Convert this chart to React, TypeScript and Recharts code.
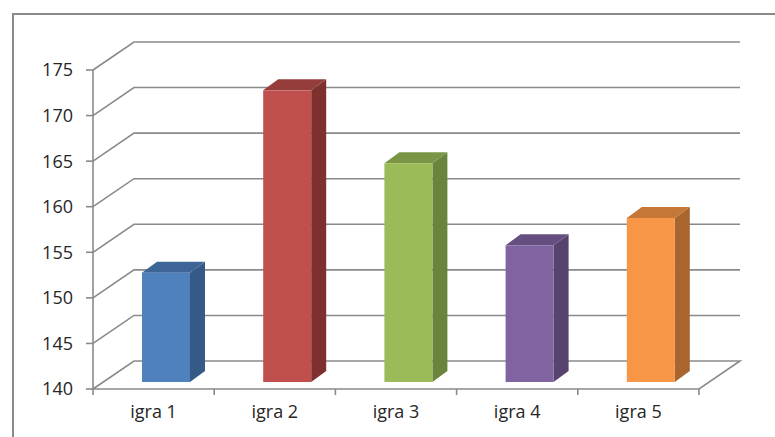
import React from 'react';
import { BarChart, Bar, XAxis, YAxis, CartesianGrid } from 'recharts';

// Categories and values
const categories = ['igra 1', 'igra 2', 'igra 3', 'igra 4', 'igra 5'];
const values = [152, 172, 164, 155, 158];
const yTicks = [140, 145, 150, 155, 160, 165, 170, 175];

// Face colours per bar: front, top, side
const frontColors = ['#4F81BD', '#C0504D', '#9BBB59', '#8064A2', '#F79646'];
const topColors = ['#3D6595', '#953D3B', '#7B9546', '#654F81', '#C47736'];
const sideColors = ['#365A86', '#7E302E', '#6A833D', '#56446E', '#A8652D'];

const data = categories.map((name, i) => ({ name, value: values[i] }));

// Perspective offsets for the back wall and bar depth
const WALL_DX = 41;
const WALL_DY = -28;
const BAR_SHIFT_X = 12;
const BAR_SHIFT_Y = -7;
const BAR_DX = 15;
const BAR_DY = -11;

const GRID = '#8a8a8a';
const TEXT = '#262626';
const FONT = "'Open Sans', 'Noto Sans', sans-serif";

function GridLine(props: any) {
  const { x1, y1, x2, y, height, index } = props;
  const bottom = typeof y === 'number' && typeof height === 'number' ? y + height : null;
  const isFloor = bottom !== null ? Math.abs(y1 - bottom) < 0.5 : index === 0;
  if (isFloor) {
    const n = categories.length;
    const step = (x2 - x1) / n;
    const ticks = Array.from({ length: n + 1 }, (_, i) => x1 + i * step);
    return (
      <g key={props.key}>
        <path
          d={`M${x1},${y1} L${x1 + WALL_DX},${y1 + WALL_DY} L${x2 + WALL_DX},${y1 + WALL_DY} L${x2},${y1} Z`}
          fill="none"
          stroke={GRID}
          strokeWidth={1.6}
        />
        {ticks.map((tx, i) => (
          <line key={i} x1={tx} y1={y1} x2={tx} y2={y1 + 6} stroke={GRID} strokeWidth={1.6} />
        ))}
      </g>
    );
  }
  return (
    <path
      key={props.key}
      d={`M${x1},${y1} L${x1 + WALL_DX},${y1 + WALL_DY} L${x2 + WALL_DX},${y1 + WALL_DY}`}
      fill="none"
      stroke={GRID}
      strokeWidth={1.6}
    />
  );
}

function Box3D(props: any) {
  const { x, y, width, height, index } = props;
  const fx = x + BAR_SHIFT_X;
  const fy = y + BAR_SHIFT_Y;
  const fb = fy + height;
  const top = `M${fx},${fy} L${fx + width},${fy} L${fx + width + BAR_DX},${fy + BAR_DY} L${fx + BAR_DX},${fy + BAR_DY} Z`;
  const side = `M${fx + width},${fy} L${fx + width + BAR_DX},${fy + BAR_DY} L${fx + width + BAR_DX},${fb + BAR_DY} L${fx + width},${fb} Z`;
  return (
    <g>
      <path d={side} fill={sideColors[index]} />
      <path d={top} fill={topColors[index]} />
      <rect x={fx} y={fy} width={width} height={height} fill={frontColors[index]} />
    </g>
  );
}

function CategoryTick(props: any) {
  const { x, y, payload } = props;
  return (
    <text x={x} y={y + 29} textAnchor="middle" fill={TEXT} fontSize={18} fontFamily={FONT}>
      {payload.value}
    </text>
  );
}

export default function App() {
  return (
    <div style={{ position: 'absolute', left: 0, top: 0, width: 775, height: 437, overflow: 'hidden', background: '#fff' }}>
      <div
        style={{
          position: 'absolute',
          left: 12,
          top: 13,
          width: 900,
          height: 600,
          border: `2px solid ${GRID}`,
          boxSizing: 'border-box',
        }}
      />
      <div style={{ position: 'absolute', left: 0, top: 0 }}>
        <BarChart
          width={775}
          height={437}
          data={data}
          margin={{ top: 70, right: 76, bottom: 18, left: 33 }}
        >
          <CartesianGrid vertical={false} horizontal={GridLine as any} />
          <XAxis
            dataKey="name"
            axisLine={false}
            tickLine={false}
            tickSize={0}
            tickMargin={0}
            height={30}
            tick={<CategoryTick />}
            interval={0}
          />
          <YAxis
            width={60}
            domain={[140, 175]}
            ticks={yTicks}
            interval={0}
            allowDataOverflow
            axisLine={{ stroke: GRID, strokeWidth: 1.6 }}
            tickLine={{ stroke: GRID, strokeWidth: 1.6 }}
            tickSize={7}
            tickMargin={13}
            tick={{ fill: TEXT, fontSize: 18, fontFamily: FONT }}
          />
          <Bar dataKey="value" barSize={48} isAnimationActive={false} shape={<Box3D />} />
        </BarChart>
      </div>
    </div>
  );
}
